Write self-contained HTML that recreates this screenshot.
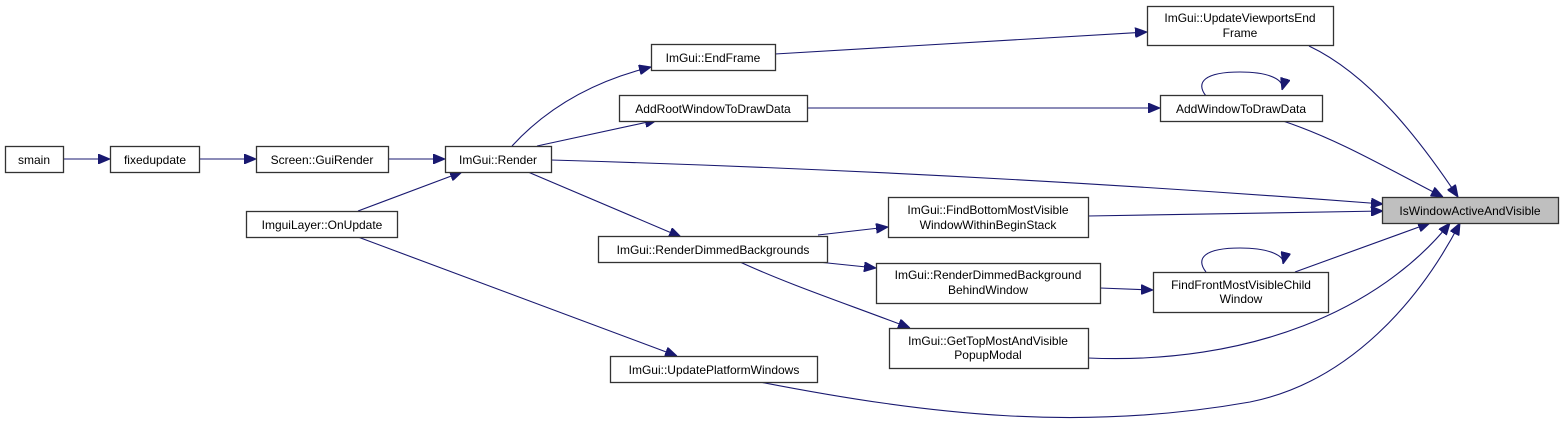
<!DOCTYPE html>
<html><head><meta charset="utf-8"><style>
html,body{margin:0;padding:0;background:#fff;}
svg{display:block;}
text{font-family:"Liberation Sans",Arial,sans-serif;font-size:12px;fill:#000;}
.b{fill:#fff;stroke:#333;stroke-width:1.3;}
.e{fill:none;stroke:#191970;stroke-width:1.1;}
</style></head><body>
<svg width="1560" height="426" viewBox="0 0 1560 426" xmlns="http://www.w3.org/2000/svg">
<defs>
<marker id="a" viewBox="0 0 12 10" refX="12" refY="5" markerWidth="12" markerHeight="10" markerUnits="userSpaceOnUse" orient="auto">
<path d="M0,0 L12,5 L0,10 z" fill="#191970" stroke="#191970"/>
</marker>
</defs>
<g class="e" marker-end="url(#a)">
<path d="M63,159 L110,159"/>
<path d="M199,159 L256,159"/>
<path d="M388,159 L445,159"/>
<path d="M358,211 L462,172"/>
<path d="M512,146 C545,110 590,82 651,67"/>
<path d="M537,146 L657,120"/>
<path d="M551,160 C900,170 1200,190 1383,204"/>
<path d="M528,172 L681,237"/>
<path d="M358,237 L677,356"/>
<path d="M775,54 L1147,32"/>
<path d="M807,108 L1160,108"/>
<path d="M1309,46 C1370,75 1420,140 1458,197"/>
<path d="M1283,121 C1340,140 1390,170 1443,197"/>
<path d="M1088,216 L1383,211"/>
<path d="M818,235 L888,227"/>
<path d="M818,262 L876,268"/>
<path d="M740,262 C790,285 850,305 910,328"/>
<path d="M1100,288 L1153,290"/>
<path d="M1295,272 L1430,223"/>
<path d="M1088,358 C1250,365 1380,310 1450,223"/>
<path d="M760,382 C930,415 1080,432 1250,402 C1350,382 1420,300 1460,223"/>
<path d="M1206,96 C1195,82 1205,72 1240,72 C1270,72 1285,80 1282,90"/>
<path d="M1206,272 C1195,258 1205,248 1240,248 C1270,248 1285,256 1283,264"/>
</g>
<rect class="b" x="5.5" y="146.5" width="58" height="26"/><text x="34" y="164" text-anchor="middle">smain</text>
<rect class="b" x="110.5" y="146.5" width="89" height="26"/><text x="155" y="164" text-anchor="middle">fixedupdate</text>
<rect class="b" x="256.5" y="146.5" width="132" height="26"/><text x="322" y="164" text-anchor="middle">Screen::GuiRender</text>
<rect class="b" x="445.5" y="146.5" width="106" height="26"/><text x="498" y="164" text-anchor="middle">ImGui::Render</text>
<rect class="b" x="246.5" y="211.5" width="151" height="26"/><text x="322" y="229" text-anchor="middle">ImguiLayer::OnUpdate</text>
<rect class="b" x="651.5" y="44.5" width="124" height="26"/><text x="713" y="62" text-anchor="middle">ImGui::EndFrame</text>
<rect class="b" x="619.5" y="95.5" width="188" height="26"/><text x="713" y="113" text-anchor="middle">AddRootWindowToDrawData</text>
<rect class="b" x="598.5" y="236.5" width="229" height="26"/><text x="713" y="254" text-anchor="middle">ImGui::RenderDimmedBackgrounds</text>
<rect class="b" x="610.5" y="356.5" width="207" height="26"/><text x="714" y="374" text-anchor="middle">ImGui::UpdatePlatformWindows</text>
<rect class="b" x="1147.5" y="6.5" width="186" height="39"/><text x="1240" y="22" text-anchor="middle">ImGui::UpdateViewportsEnd</text><text x="1240" y="37" text-anchor="middle">Frame</text>
<rect class="b" x="1160.5" y="95.5" width="162" height="26"/><text x="1241" y="113" text-anchor="middle">AddWindowToDrawData</text>
<rect x="1382.5" y="197.5" width="176" height="26" fill="#bfbfbf" stroke="#333" stroke-width="1.3"/><text x="1470" y="215" text-anchor="middle">IsWindowActiveAndVisible</text>
<rect class="b" x="888.5" y="197.5" width="200" height="40"/><text x="988" y="214" text-anchor="middle">ImGui::FindBottomMostVisible</text><text x="988" y="229" text-anchor="middle">WindowWithinBeginStack</text>
<rect class="b" x="876.5" y="263.5" width="224" height="40"/><text x="988" y="279" text-anchor="middle">ImGui::RenderDimmedBackground</text><text x="988" y="294" text-anchor="middle">BehindWindow</text>
<rect class="b" x="1153.5" y="272.5" width="175" height="40"/><text x="1241" y="289" text-anchor="middle">FindFrontMostVisibleChild</text><text x="1241" y="303" text-anchor="middle">Window</text>
<rect class="b" x="889.5" y="328.5" width="199" height="40"/><text x="988" y="345" text-anchor="middle">ImGui::GetTopMostAndVisible</text><text x="988" y="359" text-anchor="middle">PopupModal</text>
</svg>
</body></html>
